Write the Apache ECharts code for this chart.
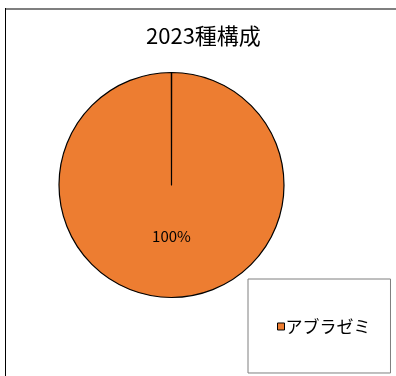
<!DOCTYPE html>
<html>
<head>
<meta charset="utf-8">
<script src="https://cdn.jsdelivr.net/npm/echarts@6/dist/echarts.min.js"></script>
<style>
html,body{margin:0;padding:0;background:#fff;}
#chart{width:396px;height:376px;}
</style>
</head>
<body>
<div id="chart"></div>
<script>
const titleText = '2023種構成';
const categories = ['アブラゼミ'];
const values = [100];
const seriesColors = ['#ED7D31'];

const chart = echarts.init(document.getElementById('chart'), null, {renderer: 'canvas'});
const font = '"Noto Sans CJK JP", "Noto Sans", sans-serif';

const option = {
  backgroundColor: '#fff',
  animation: false,
  title: {
    text: titleText,
    left: 146,
    top: 25,
    padding: 0,
    textStyle: {fontFamily: font, fontSize: 22, fontWeight: 'normal', color: '#000'}
  },
  legend: {
    data: categories,
    left: 248,
    top: 279,
    orient: 'vertical',
    padding: [39, 20, 38, 29],
    borderColor: '#7f7f7f',
    borderWidth: 1,
    itemWidth: 7,
    itemHeight: 7,
    icon: 'rect',
    itemStyle: {borderColor: '#000', borderWidth: 1},
    textStyle: {fontFamily: font, fontSize: 17, color: '#000', padding: [0, 0, 0, -4]}
  },
  graphic: [
    {type: 'line', shape: {x1: 5, y1: 9, x2: 396, y2: 9}, style: {stroke: '#7f7f7f', lineWidth: 2}},
    {type: 'line', shape: {x1: 5.5, y1: 8, x2: 5.5, y2: 376}, style: {stroke: '#000', lineWidth: 1}}
  ],
  series: [{
    type: 'pie',
    center: [171.5, 185],
    radius: 112.5,
    startAngle: 90,
    clockwise: true,
    padAngle: 0.15,
    color: seriesColors,
    itemStyle: {borderColor: '#000', borderWidth: 1.2},
    label: {
      show: true,
      position: 'inside',
      formatter: '{d}%',
      fontFamily: font,
      fontSize: 15,
      color: '#000'
    },
    labelLayout: {dy: -8},
    labelLine: {show: false},
    emphasis: {disabled: true},
    data: categories.map((c, i) => ({name: c, value: values[i]}))
  }]
};
chart.setOption(option);
</script>
</body>
</html>
